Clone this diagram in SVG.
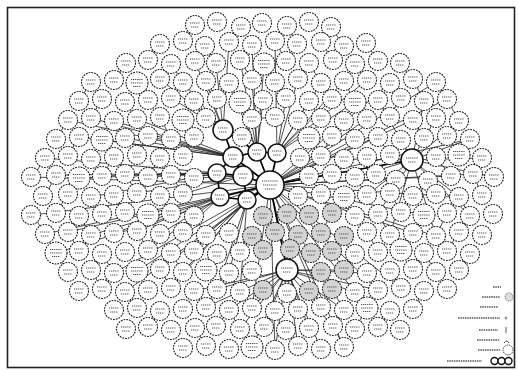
<svg xmlns="http://www.w3.org/2000/svg" width="518" height="371" viewBox="0 0 518 371">
<style>
.c{fill:#fff;stroke:#1e1e1e;stroke-width:1.1;stroke-dasharray:1.8 1}
.s{fill:#d4d4d4}
.hb{fill:#fff;stroke:#111;stroke-width:1.5}
.t{stroke:#555;stroke-width:1.2;stroke-dasharray:1.2 .7;fill:none}
.e{stroke:#222;stroke-width:.8;fill:none}
.k{stroke:#000;stroke-width:1.7;fill:none}
.lg{stroke:#555;stroke-width:1.3;stroke-dasharray:1.5 .8;fill:none}
</style>
<defs>
<g id="a"><circle class="c" r="9.5"/><path class="t" d="M-5-2h10M-4 2h8"/></g>
<g id="b"><circle class="c" r="11"/><path class="t" d="M-6-3.5h12M-6 0h12M-4 3.5h8"/></g>
<g id="g"><circle class="c s" r="9.5"/><path class="t" d="M-5-2h10M-4 2h8"/></g>
</defs>
<rect width="518" height="371" fill="#fff"/>
<rect x="7.5" y="7.5" width="507" height="360" fill="none" stroke="#222" stroke-width="1.6"/>
<g id="connectors">
<path class="e" d="M270 185L412 160M270 185L473 174M270 185L451 176M270 185L459 197M270 185L436 236M270 185L413 233M270 185L424 215M270 185L378 290M270 185L401 288M270 185L355 292M270 185L287 270M270 185L298 309M270 185L321 307M270 185L252 308M270 185L275 350M270 185L344 347M270 185L355 139M270 185L378 137M270 185L367 119M270 185L413 120M270 185L390 83M270 185L436 82M270 185L447 99M270 185L33 215M270 185L45 234M270 185L56 253M270 185L33 177M270 185L160 269M270 185L137 271M270 185L114 273M270 185L125 292M270 185L309 176M270 185L332 174M270 185L470 139"/>
<path class="e" d="M223 130L206 81M223 130L183 82M223 130L194 101M223 130L171 98M223 130L216 63M223 130L160 79M223 130L195 61M223 130L229 42"/>
<path class="e" d="M233 157L148 136M233 157L125 138M233 157L137 119M233 157L114 121M233 157L91 118M233 157L102 140M233 157L79 137M233 157L68 120"/>
<path class="e" d="M217 173L102 176M217 173L79 178M217 173L56 175M217 173L148 177M217 173L91 197M217 173L45 158M217 173L171 175"/>
<path class="e" d="M220 197L160 234M220 197L137 231M220 197L114 233M220 197L183 232M220 197L68 232M220 197L91 235M220 197L148 250"/>
<path class="e" d="M247 200L206 235M247 200L194 251M247 200L229 273M247 200L240 292M247 200L183 272M247 200L217 289M247 200L171 288"/>
<path class="e" d="M257 152L252 80M257 152L240 102M257 152L229 83M257 152L263 100M257 152L240 60M257 152L264 64M257 152L252 45"/>
<path class="e" d="M277 153L298 79M277 153L309 101M277 153L321 83M277 153L332 99M277 153L286 98M277 153L344 81M277 153L355 102M277 153L367 80M277 153L275 41"/>
<path class="e" d="M243 176L194 178M243 176L125 174M243 176L137 193M243 176L183 194"/>
<path class="e" d="M412 160L436 118M412 160L459 121M412 160L470 139M412 160L482 158M412 160L494 177M412 160L459 197M412 160L470 216M412 160L436 236M412 160L390 235M412 160L378 214M412 160L367 195M412 160L401 140M412 160L378 100M412 160L424 101M412 160L355 177M412 160L344 159"/>
<path class="e" d="M287 270L252 347M287 270L275 350M287 270L298 346M287 270L321 349M287 270L344 310M287 270L229 310M287 270L206 307M287 270L355 292M287 270L378 290M287 270L367 273M287 270L344 270M287 270L252 308M287 270L240 329M287 270L264 327M287 270L309 328M287 270L332 326M287 270L217 289M287 270L194 291"/>
<path class="e" d="M195 25L183 41M241 27L229 42M287 26L297 44M331 27L344 46M160 44L148 60M205 46L216 63M275 41L286 61M321 42L333 60M366 43L378 61M126 63L114 80M171 64L183 82M240 60L252 80M309 63L321 83M355 64L367 80M400 63L413 79M91 82L79 101M137 83L148 100M206 81L217 99M275 82L286 98M344 81L355 102M413 79L424 101M436 82L447 99M102 99L91 118M125 102L137 119M194 101L206 118M309 101L321 118M378 100L390 117M447 99L459 121M68 120L56 139M114 121L125 138M160 117L171 139M275 117L252 119M344 121L355 139M413 120L424 138M79 137L68 156M148 136L137 155M194 137L183 156M332 136L321 156M378 137L390 155M447 136L459 155M45 158L33 177M114 157L102 176M160 158L148 177M344 159L332 174M436 157L451 176M56 175L45 196M125 174L137 193M171 175L183 194M309 176L321 194M355 177L367 195M473 174L482 195M68 194L56 213M114 195L125 212M160 196L171 213M344 197L355 216M390 193L401 212M459 197L470 216M33 215L45 234M79 216L91 235M148 215L160 234M194 216L206 235M332 213L321 233M378 214L390 235M447 213L436 236M68 232L79 251M137 231L148 250M229 233L240 252M298 235L311 253M367 232L378 252M459 232L447 251M56 253L68 272M102 254L114 273M171 253L183 272M217 254L206 270M332 251L344 270M424 253L436 272M91 270L102 289M160 269L171 288M229 273L240 292M390 271L401 288M125 292L137 308M217 289L206 307M332 289L344 310M424 291L413 309M160 311L148 327M229 310L240 329M367 308L355 329M195 328L206 346M286 330L298 346M333 326L344 347"/>
<path class="k" d="M270 185L233 157M270 185L243 176M270 185L257 152M270 185L277 153M270 185L247 200M270 185L220 197M233 157L243 176M233 157L257 152M233 157L223 130M243 176L217 173M243 176L247 200M220 197L247 200M217 173L220 197M257 152L277 153M223 130L257 152M217 173L233 157M270 185L412 160M270 185L287 270"/>
</g>
<g id="nodes">
<g id="n1"><use href="#a" x="195" y="25"/></g><g id="n2"><use href="#a" x="217" y="22"/></g><g id="n3"><use href="#a" x="241" y="27"/></g><g id="n4"><use href="#a" x="262" y="23"/></g><g id="n5"><use href="#a" x="287" y="26"/></g><g id="n6"><use href="#a" x="309" y="22"/></g><g id="n7"><use href="#a" x="331" y="27"/></g>
<g id="n8"><use href="#a" x="160" y="44"/></g><g id="n9"><use href="#a" x="183" y="41"/></g><g id="n10"><use href="#a" x="205" y="46"/></g><g id="n11"><use href="#a" x="229" y="42"/></g><g id="n12"><use href="#a" x="252" y="45"/></g><g id="n13"><use href="#a" x="275" y="41"/></g><g id="n14"><use href="#a" x="297" y="44"/></g><g id="n15"><use href="#a" x="321" y="42"/></g><g id="n16"><use href="#a" x="344" y="46"/></g><g id="n17"><use href="#a" x="366" y="43"/></g>
<g id="n18"><use href="#a" x="126" y="63"/></g><g id="n19"><use href="#a" x="148" y="60"/></g><g id="n20"><use href="#a" x="171" y="64"/></g><g id="n21"><use href="#a" x="195" y="61"/></g><g id="n22"><use href="#a" x="216" y="63"/></g><g id="n23"><use href="#a" x="240" y="60"/></g><g id="n24"><use href="#b" x="264" y="64"/></g><g id="n25"><use href="#a" x="286" y="61"/></g><g id="n26"><use href="#a" x="309" y="63"/></g><g id="n27"><use href="#a" x="333" y="60"/></g><g id="n28"><use href="#a" x="355" y="64"/></g><g id="n29"><use href="#a" x="378" y="61"/></g><g id="n30"><use href="#a" x="400" y="63"/></g>
<g id="n31"><use href="#a" x="91" y="82"/></g><g id="n32"><use href="#a" x="114" y="80"/></g><g id="n33"><use href="#b" x="137" y="83"/></g><g id="n34"><use href="#a" x="160" y="79"/></g><g id="n35"><use href="#a" x="183" y="82"/></g><g id="n36"><use href="#a" x="206" y="81"/></g><g id="n37"><use href="#a" x="229" y="83"/></g><g id="n38"><use href="#a" x="252" y="80"/></g><g id="n39"><use href="#a" x="275" y="82"/></g><g id="n40"><use href="#a" x="298" y="79"/></g><g id="n41"><use href="#a" x="321" y="83"/></g><g id="n42"><use href="#a" x="344" y="81"/></g><g id="n43"><use href="#a" x="367" y="80"/></g><g id="n44"><use href="#a" x="390" y="83"/></g><g id="n45"><use href="#a" x="413" y="79"/></g><g id="n46"><use href="#a" x="436" y="82"/></g>
<g id="n47"><use href="#a" x="79" y="101"/></g><g id="n48"><use href="#a" x="102" y="99"/></g><g id="n49"><use href="#a" x="125" y="102"/></g><g id="n50"><use href="#a" x="148" y="100"/></g><g id="n51"><use href="#a" x="171" y="98"/></g><g id="n52"><use href="#a" x="194" y="101"/></g><g id="n53"><use href="#a" x="217" y="99"/></g><g id="n54"><use href="#b" x="240" y="102"/></g><g id="n55"><use href="#a" x="263" y="100"/></g><g id="n56"><use href="#a" x="286" y="98"/></g><g id="n57"><use href="#a" x="309" y="101"/></g><g id="n58"><use href="#a" x="332" y="99"/></g><g id="n59"><use href="#b" x="355" y="102"/></g><g id="n60"><use href="#a" x="378" y="100"/></g><g id="n61"><use href="#a" x="401" y="98"/></g><g id="n62"><use href="#a" x="424" y="101"/></g><g id="n63"><use href="#a" x="447" y="99"/></g>
<g id="n64"><use href="#a" x="68" y="120"/></g><g id="n65"><use href="#a" x="91" y="118"/></g><g id="n66"><use href="#a" x="114" y="121"/></g><g id="n67"><use href="#a" x="137" y="119"/></g><g id="n68"><use href="#a" x="160" y="117"/></g><g id="n69"><use href="#b" x="183" y="120"/></g><g id="n70"><use href="#a" x="206" y="118"/></g><g id="n71"><use href="#a" x="252" y="119"/></g><g id="n72"><use href="#a" x="275" y="117"/></g><g id="n73"><use href="#a" x="298" y="120"/></g><g id="n74"><use href="#a" x="321" y="118"/></g><g id="n75"><use href="#a" x="344" y="121"/></g><g id="n76"><use href="#a" x="367" y="119"/></g><g id="n77"><use href="#a" x="390" y="117"/></g><g id="n78"><use href="#a" x="413" y="120"/></g><g id="n79"><use href="#a" x="436" y="118"/></g><g id="n80"><use href="#a" x="459" y="121"/></g>
<g id="n81"><use href="#a" x="56" y="139"/></g><g id="n82"><use href="#a" x="79" y="137"/></g><g id="n83"><use href="#b" x="102" y="140"/></g><g id="n84"><use href="#a" x="125" y="138"/></g><g id="n85"><use href="#a" x="148" y="136"/></g><g id="n86"><use href="#a" x="171" y="139"/></g><g id="n87"><use href="#a" x="194" y="137"/></g><g id="n88"><use href="#a" x="242" y="137"/></g><g id="n89"><use href="#b" x="309" y="138"/></g><g id="n90"><use href="#a" x="332" y="136"/></g><g id="n91"><use href="#a" x="355" y="139"/></g><g id="n92"><use href="#a" x="378" y="137"/></g><g id="n93"><use href="#a" x="401" y="140"/></g><g id="n94"><use href="#a" x="424" y="138"/></g><g id="n95"><use href="#a" x="447" y="136"/></g><g id="n96"><use href="#a" x="470" y="139"/></g>
<g id="n97"><use href="#a" x="45" y="158"/></g><g id="n98"><use href="#a" x="68" y="156"/></g><g id="n99"><use href="#a" x="91" y="159"/></g><g id="n100"><use href="#a" x="114" y="157"/></g><g id="n101"><use href="#a" x="137" y="155"/></g><g id="n102"><use href="#a" x="160" y="158"/></g><g id="n103"><use href="#a" x="183" y="156"/></g><g id="n104"><use href="#a" x="300" y="158"/></g><g id="n105"><use href="#a" x="321" y="156"/></g><g id="n106"><use href="#a" x="344" y="159"/></g><g id="n107"><use href="#a" x="367" y="157"/></g><g id="n108"><use href="#a" x="390" y="155"/></g><g id="n109"><use href="#a" x="436" y="157"/></g><g id="n110"><use href="#b" x="459" y="155"/></g><g id="n111"><use href="#a" x="482" y="158"/></g>
<g id="n112"><use href="#a" x="31" y="177"/></g><g id="n113"><use href="#a" x="56" y="175"/></g><g id="n114"><use href="#b" x="79" y="178"/></g><g id="n115"><use href="#a" x="102" y="176"/></g><g id="n116"><use href="#a" x="125" y="174"/></g><g id="n117"><use href="#a" x="148" y="177"/></g><g id="n118"><use href="#a" x="171" y="175"/></g><g id="n119"><use href="#a" x="194" y="178"/></g><g id="n120"><use href="#a" x="309" y="176"/></g><g id="n121"><use href="#a" x="332" y="174"/></g><g id="n122"><use href="#a" x="355" y="177"/></g><g id="n123"><use href="#a" x="376" y="174"/></g><g id="n124"><use href="#a" x="396" y="180"/></g><g id="n125"><use href="#a" x="428" y="181"/></g><g id="n126"><use href="#a" x="451" y="176"/></g><g id="n127"><use href="#a" x="473" y="174"/></g><g id="n128"><use href="#a" x="494" y="177"/></g>
<g id="n129"><use href="#a" x="43" y="196"/></g><g id="n130"><use href="#a" x="68" y="194"/></g><g id="n131"><use href="#a" x="91" y="197"/></g><g id="n132"><use href="#a" x="114" y="195"/></g><g id="n133"><use href="#a" x="137" y="193"/></g><g id="n134"><use href="#a" x="160" y="196"/></g><g id="n135"><use href="#a" x="183" y="194"/></g><g id="n136"><use href="#a" x="298" y="196"/></g><g id="n137"><use href="#a" x="321" y="194"/></g><g id="n138"><use href="#b" x="344" y="197"/></g><g id="n139"><use href="#a" x="367" y="195"/></g><g id="n140"><use href="#a" x="390" y="193"/></g><g id="n141"><use href="#a" x="413" y="196"/></g><g id="n142"><use href="#a" x="436" y="194"/></g><g id="n143"><use href="#a" x="459" y="197"/></g><g id="n144"><use href="#a" x="482" y="195"/></g>
<g id="n145"><use href="#a" x="31" y="215"/></g><g id="n146"><use href="#a" x="56" y="213"/></g><g id="n147"><use href="#a" x="79" y="216"/></g><g id="n148"><use href="#a" x="102" y="214"/></g><g id="n149"><use href="#a" x="125" y="212"/></g><g id="n150"><use href="#b" x="148" y="215"/></g><g id="n151"><use href="#a" x="171" y="213"/></g><g id="n152"><use href="#a" x="194" y="216"/></g><g id="n153"><use href="#g" x="263" y="216"/></g><g id="n154"><use href="#g" x="287" y="214"/></g><g id="n155"><use href="#g" x="309" y="215"/></g><g id="n156"><use href="#g" x="332" y="213"/></g><g id="n157"><use href="#a" x="355" y="216"/></g><g id="n158"><use href="#a" x="378" y="214"/></g><g id="n159"><use href="#a" x="401" y="212"/></g><g id="n160"><use href="#b" x="424" y="215"/></g><g id="n161"><use href="#a" x="447" y="213"/></g><g id="n162"><use href="#a" x="470" y="216"/></g><g id="n163"><use href="#a" x="493" y="214"/></g>
<g id="n164"><use href="#a" x="45" y="234"/></g><g id="n165"><use href="#a" x="68" y="232"/></g><g id="n166"><use href="#a" x="91" y="235"/></g><g id="n167"><use href="#a" x="114" y="233"/></g><g id="n168"><use href="#a" x="137" y="231"/></g><g id="n169"><use href="#a" x="160" y="234"/></g><g id="n170"><use href="#a" x="183" y="232"/></g><g id="n171"><use href="#a" x="206" y="235"/></g><g id="n172"><use href="#a" x="229" y="233"/></g><g id="n173"><use href="#g" x="252" y="236"/></g><g id="n174"><use href="#g" x="275" y="232"/></g><g id="n175"><use href="#g" x="298" y="235"/></g><g id="n176"><use href="#g" x="321" y="233"/></g><g id="n177"><use href="#g" x="344" y="236"/></g><g id="n178"><use href="#a" x="367" y="232"/></g><g id="n179"><use href="#a" x="390" y="235"/></g><g id="n180"><use href="#a" x="413" y="233"/></g><g id="n181"><use href="#a" x="436" y="236"/></g><g id="n182"><use href="#a" x="459" y="232"/></g><g id="n183"><use href="#a" x="482" y="235"/></g>
<g id="n184"><use href="#b" x="56" y="253"/></g><g id="n185"><use href="#a" x="79" y="251"/></g><g id="n186"><use href="#a" x="102" y="254"/></g><g id="n187"><use href="#a" x="125" y="252"/></g><g id="n188"><use href="#a" x="148" y="250"/></g><g id="n189"><use href="#a" x="171" y="253"/></g><g id="n190"><use href="#a" x="194" y="251"/></g><g id="n191"><use href="#a" x="217" y="254"/></g><g id="n192"><use href="#a" x="240" y="252"/></g><g id="n193"><use href="#g" x="263" y="250"/></g><g id="n194"><use href="#g" x="290" y="249"/></g><g id="n195"><use href="#g" x="311" y="253"/></g><g id="n196"><use href="#g" x="332" y="251"/></g><g id="n197"><use href="#a" x="355" y="254"/></g><g id="n198"><use href="#a" x="378" y="252"/></g><g id="n199"><use href="#b" x="401" y="250"/></g><g id="n200"><use href="#a" x="424" y="253"/></g><g id="n201"><use href="#a" x="447" y="251"/></g><g id="n202"><use href="#a" x="470" y="254"/></g>
<g id="n203"><use href="#a" x="68" y="272"/></g><g id="n204"><use href="#a" x="91" y="270"/></g><g id="n205"><use href="#a" x="114" y="273"/></g><g id="n206"><use href="#b" x="137" y="271"/></g><g id="n207"><use href="#a" x="160" y="269"/></g><g id="n208"><use href="#a" x="183" y="272"/></g><g id="n209"><use href="#b" x="206" y="270"/></g><g id="n210"><use href="#a" x="229" y="273"/></g><g id="n211"><use href="#a" x="252" y="271"/></g><g id="n212"><use href="#g" x="321" y="272"/></g><g id="n213"><use href="#g" x="344" y="270"/></g><g id="n214"><use href="#a" x="367" y="273"/></g><g id="n215"><use href="#a" x="390" y="271"/></g><g id="n216"><use href="#a" x="413" y="269"/></g><g id="n217"><use href="#a" x="436" y="272"/></g><g id="n218"><use href="#a" x="459" y="270"/></g>
<g id="n219"><use href="#a" x="79" y="291"/></g><g id="n220"><use href="#a" x="102" y="289"/></g><g id="n221"><use href="#a" x="125" y="292"/></g><g id="n222"><use href="#a" x="148" y="290"/></g><g id="n223"><use href="#a" x="171" y="288"/></g><g id="n224"><use href="#a" x="194" y="291"/></g><g id="n225"><use href="#a" x="217" y="289"/></g><g id="n226"><use href="#a" x="240" y="292"/></g><g id="n227"><use href="#g" x="263" y="290"/></g><g id="n228"><use href="#a" x="287" y="293"/></g><g id="n229"><use href="#g" x="309" y="291"/></g><g id="n230"><use href="#g" x="332" y="289"/></g><g id="n231"><use href="#a" x="355" y="292"/></g><g id="n232"><use href="#a" x="378" y="290"/></g><g id="n233"><use href="#a" x="401" y="288"/></g><g id="n234"><use href="#a" x="424" y="291"/></g><g id="n235"><use href="#a" x="447" y="289"/></g>
<g id="n236"><use href="#a" x="114" y="310"/></g><g id="n237"><use href="#a" x="137" y="308"/></g><g id="n238"><use href="#a" x="160" y="311"/></g><g id="n239"><use href="#a" x="183" y="309"/></g><g id="n240"><use href="#a" x="206" y="307"/></g><g id="n241"><use href="#a" x="229" y="310"/></g><g id="n242"><use href="#a" x="252" y="308"/></g><g id="n243"><use href="#a" x="275" y="311"/></g><g id="n244"><use href="#a" x="298" y="309"/></g><g id="n245"><use href="#a" x="321" y="307"/></g><g id="n246"><use href="#a" x="344" y="310"/></g><g id="n247"><use href="#b" x="367" y="308"/></g><g id="n248"><use href="#a" x="390" y="311"/></g><g id="n249"><use href="#a" x="413" y="309"/></g>
<g id="n250"><use href="#a" x="126" y="329"/></g><g id="n251"><use href="#a" x="148" y="327"/></g><g id="n252"><use href="#a" x="171" y="330"/></g><g id="n253"><use href="#a" x="195" y="328"/></g><g id="n254"><use href="#a" x="216" y="326"/></g><g id="n255"><use href="#a" x="240" y="329"/></g><g id="n256"><use href="#a" x="264" y="327"/></g><g id="n257"><use href="#a" x="286" y="330"/></g><g id="n258"><use href="#a" x="309" y="328"/></g><g id="n259"><use href="#a" x="333" y="326"/></g><g id="n260"><use href="#a" x="355" y="329"/></g><g id="n261"><use href="#a" x="378" y="327"/></g><g id="n262"><use href="#a" x="400" y="330"/></g>
<g id="n263"><use href="#a" x="183" y="348"/></g><g id="n264"><use href="#a" x="206" y="346"/></g><g id="n265"><use href="#a" x="229" y="349"/></g><g id="n266"><use href="#b" x="252" y="347"/></g><g id="n267"><use href="#a" x="275" y="350"/></g><g id="n268"><use href="#a" x="298" y="346"/></g><g id="n269"><use href="#a" x="321" y="349"/></g><g id="n270"><use href="#a" x="344" y="347"/></g>
<g id="hubA" transform="translate(270 185)"><circle class="hb" r="14"/><path class="t" d="M-8-4h16M-7 0h14M-5 4h10"/></g>
<g id="hubB" transform="translate(233 157)"><circle class="hb" r="10"/><path class="t" d="M-5-2h10M-4 2h8"/></g>
<g id="hubC" transform="translate(243 176)"><circle class="hb" r="10"/><path class="t" d="M-5-2h10M-4 2h8"/></g>
<g id="hubD" transform="translate(257 152)"><circle class="hb" r="9"/><path class="t" d="M-5-2h10M-4 2h8"/></g>
<g id="hubE" transform="translate(217 173)"><circle class="hb" r="9"/><path class="t" d="M-5-2h10M-4 2h8"/></g>
<g id="hubF" transform="translate(223 130)"><circle class="hb" r="10"/><path class="t" d="M-5-2h10M-4 2h8"/></g>
<g id="hubG" transform="translate(277 153)"><circle class="hb" r="9"/><path class="t" d="M-5-2h10M-4 2h8"/></g>
<g id="hubH" transform="translate(220 197)"><circle class="hb" r="9"/><path class="t" d="M-5-2h10M-4 2h8"/></g>
<g id="hubI" transform="translate(247 200)"><circle class="hb" r="9"/><path class="t" d="M-5-2h10M-4 2h8"/></g>
<g id="hubJ" transform="translate(412 160)"><circle class="hb" r="11"/><path class="t" d="M-6-2h12M-4 2h8"/></g>
<g id="hubK" transform="translate(287 270)"><circle class="hb" r="11"/><path class="t" d="M-6-2h12M-4 2h8"/></g>
</g>
<g id="legend">
<path class="lg" d="M493 287h8M482 297h18M480 307h18M458 318h42M479 330h19M477 340h23M478 350h22M447 361h35"/>
<circle cx="509" cy="297" r="4" fill="#ddd" stroke="#777" stroke-width="1" stroke-dasharray="1.2 .8"/>
<circle cx="506" cy="318" r="1.5" fill="#999"/>
<path d="M506 327v6" stroke="#555" stroke-width="1"/>
<path d="M504 343q3-4 5 0" stroke="#555" stroke-width="1" fill="none"/>
<circle cx="508" cy="350" r="5" fill="#fff" stroke="#333" stroke-width="1" stroke-dasharray="1.2 .8"/>
<circle cx="494.5" cy="361" r="3.5" fill="#fff" stroke="#111" stroke-width="1.4"/>
<circle cx="501.5" cy="361" r="3.5" fill="#fff" stroke="#111" stroke-width="1.4"/>
<circle cx="508.5" cy="361" r="3.5" fill="#fff" stroke="#111" stroke-width="1.4"/>
</g>
</svg>
